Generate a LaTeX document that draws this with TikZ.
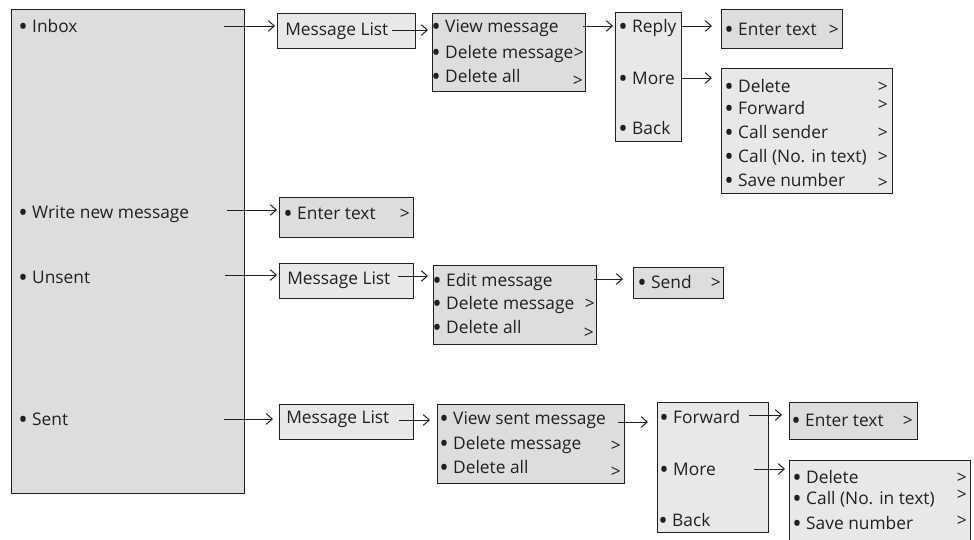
\documentclass[tikz,border=0pt]{standalone}
\usepackage{fontspec}
\usepackage{graphicx}
\setmainfont{Open Sans}
\usetikzlibrary{arrows.meta}
\definecolor{boxdark}{RGB}{220,221,223}
\definecolor{boxlight}{RGB}{231,232,233}
\definecolor{inkgray}{RGB}{35,31,32}
\newcommand{\bul}{\raisebox{-2.6pt}[0pt][0pt]{\scalebox{1.45}{•}}}

\begin{document}
\begin{tikzpicture}[x=0.75pt, y=-0.75pt,
    menu/.style={draw=inkgray, line width=0.9pt, fill=boxdark, anchor=north west, inner sep=0pt},
    lightmenu/.style={menu, fill=boxlight},
    item/.style={anchor=base west, inner sep=0pt, text=inkgray, font=\fontsize{13}{16}\selectfont},
    more/.style={item, anchor=base east},
    link/.style={draw=inkgray, line width=0.75pt, shorten >=1.5pt, -{Straight Barb[length=4.5pt,width=8pt,line width=0.75pt]}}]
    \clip (0,0) rectangle (974,539);
    \fill[white] (0,0) rectangle (974,539);

    % main menu
    \node[menu, minimum width=174.75pt, minimum height=363pt] (main) at (11,9) {};
    \node[item] (inbox) at (18,32) {\bul\ Inbox};
    \node[item] (write) at (18,218) {\bul\ Write new message};
    \node[item] (unsent) at (18,283) {\bul\ Unsent};
    \node[item] (sent) at (18,425) {\bul\ Sent};

    % inbox
    \node[lightmenu, minimum width=103.5pt, minimum height=26.25pt] (inlist) at (277,13) {};
    \node[item] (inlisttxt) at (285,36) {Message List};
    \node[menu, minimum width=114.75pt, minimum height=58.5pt] (inview) at (432,13) {};
    \node[item] (inviewa) at (431,32) {\bul\ View message};
    \node[item] (inviewb) at (431,58) {\bul\ Delete message};
    \node[item] (inviewc) at (431,82) {\bul\ Delete all};
    \node[more] (inviewgtb) at (584,58) {>};
    \node[more] (inviewgtc) at (583,86) {>};
    \node[lightmenu, minimum width=49.5pt, minimum height=96.75pt] (inopt) at (615,12) {};
    \node[item] (inopta) at (618,32) {\bul\ Reply};
    \node[item] (inoptb) at (618,84) {\bul\ More};
    \node[item] (inoptc) at (618,134) {\bul\ Back};
    \node[menu, minimum width=90.75pt, minimum height=29.25pt] (inreply) at (721,9) {};
    \node[item] (inreplytxt) at (724,35) {\bul\ Enter text};
    \node[more] (inreplygt) at (839,35) {>};
    \node[lightmenu, minimum width=128.25pt, minimum height=93.75pt] (inmore) at (721,68) {};
    \node[item] (inmorea) at (724,92) {\bul\ Delete};
    \node[item] (inmoreb) at (724,114) {\bul\ Forward};
    \node[item] (inmorec) at (724,138) {\bul\ Call sender};
    \node[item] (inmored) at (724,162) {\bul\ Call (No. in text)};
    \node[item] (inmoree) at (724,186) {\bul\ Save number};
    \node[more] (inmoregta) at (888,92) {>};
    \node[more] (inmoregtb) at (888,110) {>};
    \node[more] (inmoregtc) at (888,138) {>};
    \node[more] (inmoregtd) at (888,162) {>};
    \node[more] (inmoregte) at (888,188) {>};

    % write new message
    \node[menu, minimum width=100.5pt, minimum height=30pt] (wrtext) at (279,197) {};
    \node[item] (wrtexttxt) at (283,219) {\bul\ Enter text};
    \node[more] (wrtextgt) at (410,219) {>};

    % unsent
    \node[lightmenu, minimum width=100.5pt, minimum height=26.25pt] (unlist) at (279,263) {};
    \node[item] (unlisttxt) at (287,284) {Message List};
    \node[menu, minimum width=122.25pt, minimum height=59.25pt] (unedit) at (433,265) {};
    \node[item] (uneditta) at (432,286) {\bul\ Edit message};
    \node[item] (unedittb) at (432,309) {\bul\ Delete message};
    \node[item] (uneditc) at (432,333) {\bul\ Delete all};
    \node[more] (uneditgtb) at (595,309) {>};
    \node[more] (uneditgtc) at (594,338) {>};
    \node[menu, minimum width=67.5pt, minimum height=23.25pt] (unsend) at (633,267) {};
    \node[item] (unsendtxt) at (637,288) {\bul\ Send};
    \node[more] (unsendgt) at (721,288) {>};

    % sent
    \node[lightmenu, minimum width=100.5pt, minimum height=26.25pt] (selist) at (279,404) {};
    \node[item] (selisttxt) at (286,423) {Message List};
    \node[menu, minimum width=140.25pt, minimum height=59.25pt] (seview) at (437,404) {};
    \node[item] (seviewa) at (439,424) {\bul\ View sent message};
    \node[item] (seviewb) at (439,449) {\bul\ Delete message};
    \node[item] (seviewc) at (439,473) {\bul\ Delete all};
    \node[more] (seviewgtb) at (621,451) {>};
    \node[more] (seviewgtc) at (621,477) {>};
    \node[lightmenu, minimum width=83.25pt, minimum height=97.5pt] (seopt) at (657,402) {};
    \node[item] (seopta) at (659,423) {\bul\ Forward};
    \node[item] (seoptb) at (659,475) {\bul\ More};
    \node[item] (seoptc) at (658,526) {\bul\ Back};
    \node[menu, minimum width=96pt, minimum height=27.75pt] (sefwd) at (789,402) {};
    \node[item] (sefwdtxt) at (791,426) {\bul\ Enter text};
    \node[more] (sefwdgt) at (913,426) {>};
    \node[lightmenu, minimum width=135.75pt, minimum height=63.75pt] (semore) at (789,460) {};
    \node[item] (semorea) at (792,483) {\bul\ Delete};
    \node[item] (semoreb) at (792,504) {\bul\ Call (No. in text)};
    \node[item] (semorec) at (792,529) {\bul\ Save number};
    \node[more] (semoregta) at (967,483) {>};
    \node[more] (semoregtb) at (967,500) {>};
    \node[more] (semoregtc) at (967,526) {>};

    % connectors
    \coordinate (inboxout) at (224,26);
    \coordinate (inlistout) at (392,30);
    \coordinate (inviewout) at (583,26);
    \coordinate (writeout) at (227,210);
    \coordinate (unsentout) at (225,275);
    \coordinate (unlistout) at (398,276);
    \coordinate (uneditout) at (594,279);
    \coordinate (sentout) at (224,419);
    \coordinate (selistout) at (399,420);
    \coordinate (seviewout) at (618,422);
    \coordinate (seoptaout) at (749,415);
    \coordinate (seoptbout) at (754,469);
    \draw[link] (inboxout) -- (inlist.west |- inboxout);
    \draw[link, shorten >=3pt] (inlistout) -- (inview.west |- inlistout);
    \draw[link] (inviewout) -- (inopt.west |- inviewout);
    \draw[link, shorten >=6.75pt] (inopt.east |- inviewout) -- (inreply.west |- inviewout);
    \draw[link, shorten >=6.75pt] (inopt.east |- 0,78) -- (inmore.west |- 0,78);
    \draw[link] (writeout) -- (wrtext.west |- writeout);
    \draw[link] (unsentout) -- (unlist.west |- unsentout);
    \draw[link, shorten >=3.75pt] (unlistout) -- (unedit.west |- unlistout);
    \draw[link, shorten >=7.5pt] (uneditout) -- (unsend.west |- uneditout);
    \draw[link, shorten >=4.5pt] (sentout) -- (selist.west |- sentout);
    \draw[link, shorten >=5.25pt] (selistout) -- (seview.west |- selistout);
    \draw[link, shorten >=6.75pt] (seviewout) -- (seopt.west |- seviewout);
    \draw[link, shorten >=5.25pt] (seoptaout) -- (sefwd.west |- seoptaout);
    \draw[link, shorten >=3pt] (seoptbout) -- (semore.west |- seoptbout);
\end{tikzpicture}
\end{document}
